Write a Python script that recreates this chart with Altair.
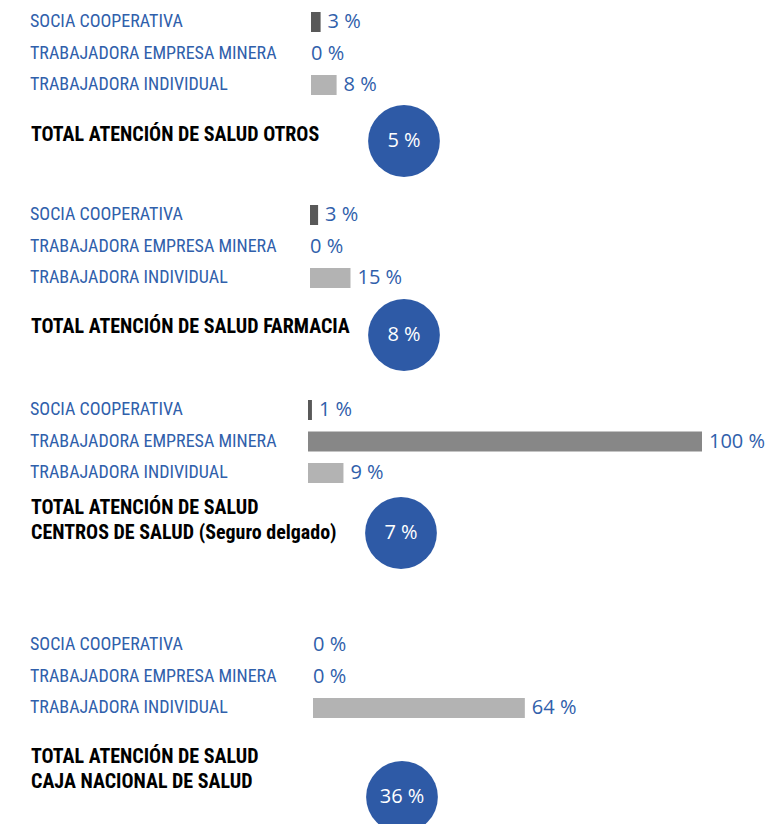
import altair as alt
import pandas as pd

# --- data -------------------------------------------------------------
categories = ["SOCIA COOPERATIVA", "TRABAJADORA EMPRESA MINERA", "TRABAJADORA INDIVIDUAL"]
otros = [3, 0, 8]
farmacia = [3, 0, 15]
centros_salud = [1, 100, 9]
caja_nacional = [0, 0, 64]
totals = [5, 8, 7, 36]
total_titles = [
    ["TOTAL ATENCIÓN DE SALUD OTROS"],
    ["TOTAL ATENCIÓN DE SALUD FARMACIA"],
    ["TOTAL ATENCIÓN DE SALUD", "CENTROS DE SALUD (Seguro delgado)"],
    ["TOTAL ATENCIÓN DE SALUD", "CAJA NACIONAL DE SALUD"],
]
groups = [otros, farmacia, centros_salud, caja_nacional]

# --- styling / layout --------------------------------------------------
bar_colors = ["#595959", "#878787", "#b3b3b3"]
BLUE = "#3060ab"
CIRCLE = "#2e5aa6"
LABEL_FONT = "Roboto Condensed, Roboto, Liberation Sans, sans-serif"
VALUE_FONT = "Open Sans, Lato, sans-serif"
W, H = 769, 824

first_row = [22, 215, 410, 645]      # vertical centre of the first row of each block
row_step = 31.5
title_y = [135, 327, 508, 757]       # first title line of each block
title_step = 25
circle_y = [141, 335, 533, 797]
circle_x = [404, 404, 401, 402]
bar_origin = [311, 310, 308, 313]    # pixel where 0 % sits
px_per_pct = [3.2, 2.7, 3.94, 3.31]
BAR_H = 20

yscale = alt.Scale(domain=[0, H], range=[0, H])

layers = []
for g, vals in enumerate(groups):
    rows = pd.DataFrame({
        "cat": categories,
        "value": vals,
        "color": bar_colors,
        "yc": [first_row[g] + i * row_step for i in range(3)],
    })
    rows["y0"] = rows["yc"] - BAR_H / 2
    rows["y1"] = rows["yc"] + BAR_H / 2
    rows["label"] = rows["value"].astype(str) + " %"

    xs = alt.Scale(domain=[0, 100], range=[bar_origin[g], bar_origin[g] + 100 * px_per_pct[g]])
    base = alt.Chart(rows)
    bars = base.transform_filter("datum.value > 0").mark_rect().encode(
        x=alt.X("zero:Q", scale=xs, axis=None),
        x2="value:Q",
        y=alt.Y("y0:Q", scale=yscale, axis=None),
        y2="y1:Q",
        color=alt.Color("color:N", scale=None),
    ).transform_calculate(zero="0")
    vals_nz = base.transform_filter("datum.value > 0").mark_text(
        align="left", baseline="middle", dx=7, font=VALUE_FONT, fontSize=20, color=BLUE
    ).encode(
        x=alt.X("value:Q", scale=xs, axis=None),
        y=alt.Y("yc:Q", scale=yscale, axis=None),
        text="label:N",
    )
    vals_z = base.transform_filter("datum.value == 0").mark_text(
        align="left", baseline="middle", dx=0, font=VALUE_FONT, fontSize=20, color=BLUE
    ).encode(
        x=alt.X("value:Q", scale=xs, axis=None),
        y=alt.Y("yc:Q", scale=yscale, axis=None),
        text="label:N",
    )
    layers.append(alt.layer(bars, vals_nz, vals_z))

# category names on the left
cat_rows = pd.DataFrame([
    {"cat": c, "yc": first_row[g] + i * row_step}
    for g in range(4) for i, c in enumerate(categories)
])
cat_text = alt.Chart(cat_rows).mark_text(
    align="left", baseline="middle", font=LABEL_FONT, fontSize=18, color=BLUE
).encode(x=alt.value(30), y=alt.Y("yc:Q", scale=yscale, axis=None), text="cat:N")

# block titles
title_rows = pd.DataFrame([
    {"t": line, "yc": title_y[g] + j * title_step}
    for g in range(4) for j, line in enumerate(total_titles[g])
])
title_text = alt.Chart(title_rows).mark_text(
    align="left", baseline="middle", font=LABEL_FONT, fontSize=20, fontWeight="bold", color="#000000"
).encode(x=alt.value(31), y=alt.Y("yc:Q", scale=yscale, axis=None), text="t:N")

# total circles
circ = pd.DataFrame({
    "total": totals,
    "yc": circle_y,
    "xc": circle_x,
})
circ["label"] = circ["total"].astype(str) + " %"
xpix = alt.Scale(domain=[0, W], range=[0, W])
circles = alt.Chart(circ).mark_circle(size=5150, color=CIRCLE, opacity=1).encode(
    x=alt.X("xc:Q", scale=xpix, axis=None), y=alt.Y("yc:Q", scale=yscale, axis=None)
)
circle_text = alt.Chart(circ).mark_text(
    align="center", baseline="middle", font=VALUE_FONT, fontSize=20, color="white"
).encode(
    x=alt.X("xc:Q", scale=xpix, axis=None), y=alt.Y("yc:Q", scale=yscale, axis=None), text="label:N"
)
circle_layer = alt.layer(circles, circle_text)

chart = alt.layer(*layers, cat_text, title_text, circle_layer).resolve_scale(
    x="independent"
).properties(
    width=W, height=H, padding=0, autosize=alt.AutoSizeParams(type="none"),
    background="white",
).configure_view(stroke=None)

chart.save("out.html", embed_options={"renderer": "svg", "actions": False})
